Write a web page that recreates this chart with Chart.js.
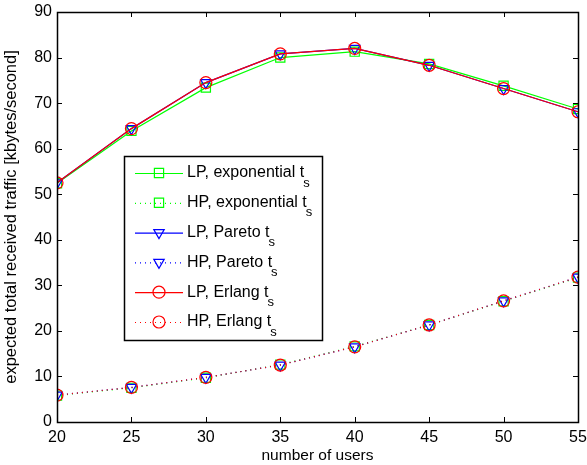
<!DOCTYPE html>
<html>
<head>
<meta charset="utf-8">
<script src="https://cdn.jsdelivr.net/npm/chart.js"></script>
<style>
  html, body { margin: 0; padding: 0; background: #fff; }
  #wrap { width: 587px; height: 465px; }
</style>
</head>
<body>
<div id="wrap"><canvas id="trafficChart"></canvas></div>
<script>
// données
const users = [20, 25, 30, 35, 40, 45, 50, 55];
const lpExponential = [52.4, 63.9, 73.4, 80.0, 81.3, 78.6, 73.8, 68.7];
const hpExponential = [5.8, 7.5, 9.7, 12.6, 16.6, 21.3, 26.5, 31.7];
const lpPareto = [52.5, 64.4, 74.5, 80.8, 82.0, 78.3, 73.2, 68.1];
const hpPareto = [5.9, 7.6, 9.8, 12.5, 16.5, 21.3, 26.6, 31.8];
const lpErlang = [52.5, 64.4, 74.5, 80.8, 82.0, 78.3, 73.2, 68.1];
const hpErlang = [5.9, 7.6, 9.8, 12.5, 16.5, 21.3, 26.6, 31.8];
const xTicks = [20, 25, 30, 35, 40, 45, 50, 55];
const yTicks = [0, 10, 20, 30, 40, 50, 60, 70, 80, 90];
const legendLabels = ['LP, exponential t', 'HP, exponential t', 'LP, Pareto t', 'HP, Pareto t', 'LP, Erlang t', 'HP, Erlang t'];

const FONT = '"Liberation Sans", Arial, sans-serif';

function pts(values) {
    return users.map((u, i) => ({ x: u, y: values[i] }));
}

function makeSet(label, values, color, style, dotted, order) {
    return {
        label: label,
        data: pts(values),
        order: order,
        borderColor: color,
        backgroundColor: 'rgba(0,0,0,0)',
        borderWidth: 1.2,
        borderDash: dotted ? [1, 4] : [],
        pointStyle: style,
        pointRotation: style === 'triangle' ? 180 : 0,
        pointRadius: style === 'rect' ? 6.5 : 6,
        pointBorderColor: color,
        pointBackgroundColor: 'rgba(0,0,0,0)',
        pointBorderWidth: 1.2,
        tension: 0
    };
}

// les dernières séries sont tracées au-dessus, comme sous MATLAB
const datasets = [
    makeSet(legendLabels[0], lpExponential, '#00ff00', 'rect', false, 5),
    makeSet(legendLabels[1], hpExponential, '#00ff00', 'rect', true, 4),
    makeSet(legendLabels[2], lpPareto, '#0000ff', 'triangle', false, 3),
    makeSet(legendLabels[3], hpPareto, '#0000ff', 'triangle', true, 2),
    makeSet(legendLabels[4], lpErlang, '#ff0000', 'circle', false, 1),
    makeSet(legendLabels[5], hpErlang, '#ff0000', 'circle', true, 0)
];

// cadre et graduations vers l'intérieur (style MATLAB)
const boxPlugin = {
    id: 'boxPlugin',
    afterDatasetsDraw(chart) {
        const ctx = chart.ctx;
        const a = chart.chartArea;
        const xs = chart.scales.x, ys = chart.scales.y;
        ctx.save();
        ctx.strokeStyle = '#000';
        ctx.lineWidth = 1;
        ctx.beginPath();
        xTicks.forEach(v => {
            const px = Math.round(xs.getPixelForValue(v)) + 0.5;
            ctx.moveTo(px, a.bottom); ctx.lineTo(px, a.bottom - 5);
            ctx.moveTo(px, a.top); ctx.lineTo(px, a.top + 5);
        });
        yTicks.forEach(v => {
            const py = Math.round(ys.getPixelForValue(v)) + 0.5;
            ctx.moveTo(a.left, py); ctx.lineTo(a.left + 5, py);
            ctx.moveTo(a.right, py); ctx.lineTo(a.right - 5, py);
        });
        ctx.stroke();
        ctx.lineWidth = 1.5;
        ctx.strokeRect(Math.round(a.left) + 0.5, Math.round(a.top) + 0.5,
            Math.round(a.right - a.left), Math.round(a.bottom - a.top));
        ctx.restore();
    }
};

// légende dessinée à la main (indice "s")
const legendPlugin = {
    id: 'legendPlugin',
    afterDraw(chart) {
        const ctx = chart.ctx;
        const left = 124, top = 156, w = 198, h = 184;
        ctx.save();
        ctx.fillStyle = '#fff';
        ctx.fillRect(left, top, w, h);
        ctx.strokeStyle = '#000';
        ctx.lineWidth = 1.5;
        ctx.strokeRect(left + 0.5, top + 0.5, w, h);
        chart.data.datasets.forEach((ds, i) => {
            const y = top + 17 + i * 29.8;
            ctx.strokeStyle = ds.borderColor;
            ctx.lineWidth = 1.2;
            ctx.setLineDash(ds.borderDash);
            ctx.beginPath();
            ctx.moveTo(135, y + 0.5);
            ctx.lineTo(183, y + 0.5);
            ctx.stroke();
            ctx.setLineDash([]);
            ctx.fillStyle = 'rgba(0,0,0,0)';
            ctx.strokeStyle = ds.borderColor;
            Chart.helpers.drawPoint(ctx, {
                pointStyle: ds.pointStyle,
                rotation: ds.pointRotation,
                radius: ds.pointRadius,
                borderWidth: 1.2
            }, 159, y);
            ctx.fillStyle = '#000';
            ctx.font = '16px ' + FONT;
            ctx.textBaseline = 'middle';
            ctx.textAlign = 'left';
            ctx.fillText(ds.label, 187, y);
            const tw = ctx.measureText(ds.label).width;
            ctx.font = '13px ' + FONT;
            ctx.fillText('s', 187 + tw - 1, y + 10);
        });
        ctx.restore();
    }
};

const ctx = document.getElementById('trafficChart').getContext('2d');
new Chart(ctx, {
    type: 'line',
    data: { datasets: datasets },
    plugins: [boxPlugin, legendPlugin],
    options: {
        responsive: true,
        maintainAspectRatio: false,
        animation: false,
        layout: { padding: { top: 12, right: 9, left: 0, bottom: 0 } },
        plugins: {
            legend: { display: false },
            tooltip: { enabled: false }
        },
        scales: {
            x: {
                type: 'linear',
                min: 20,
                max: 55,
                afterBuildTicks: s => { s.ticks = xTicks.map(v => ({ value: v })); },
                afterFit: s => { s.height = 43; s.paddingLeft = 0; s.paddingRight = 0; },
                grid: { display: false, drawTicks: false },
                border: { display: false },
                ticks: { color: '#000', font: { family: FONT, size: 16 }, padding: 6, maxRotation: 0 },
                title: { display: true, text: 'number of users', color: '#000', font: { family: FONT, size: 15.5 }, padding: { top: 0, bottom: 0 } }
            },
            y: {
                min: 0,
                max: 90,
                afterBuildTicks: s => { s.ticks = yTicks.map(v => ({ value: v })); },
                afterFit: s => { s.width = 57; s.paddingTop = 0; s.paddingBottom = 0; },
                grid: { display: false, drawTicks: false },
                border: { display: false },
                ticks: { color: '#000', font: { family: FONT, size: 16 }, padding: 5 },
                title: { display: true, text: 'expected total received traffic [kbytes/second]', color: '#000', font: { family: FONT, size: 16.5 }, padding: { top: 2, bottom: 0 } }
            }
        }
    }
});
</script>
</body>
</html>
